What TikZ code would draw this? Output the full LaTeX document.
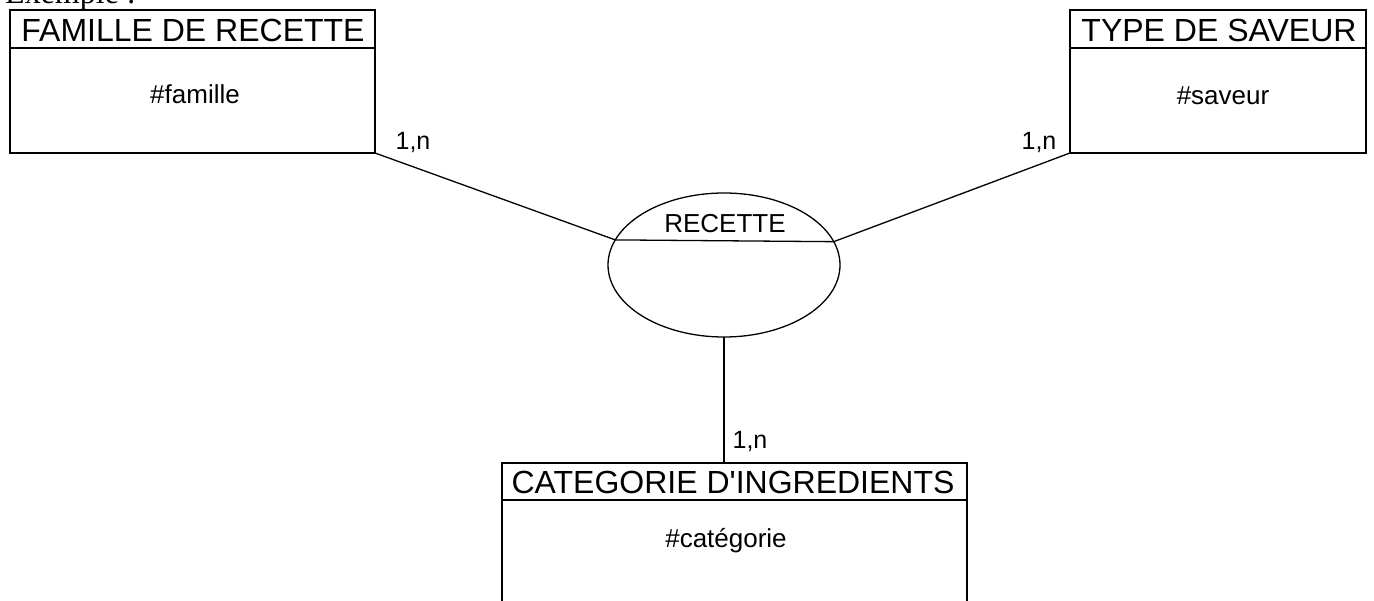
\documentclass[tikz,border=0pt]{standalone}
\usepackage{fontspec}
\setmainfont{Liberation Sans}
\newfontfamily\timesfont{Liberation Serif}
\usetikzlibrary{shapes.geometric}
\tikzset{
  ln/.style={line width=1.3pt, black},
  entbox/.style={draw, ln, anchor=north west, inner sep=0pt, outer sep=0pt},
  head/.style={font=\fontsize{32}{36}\selectfont, inner sep=0pt},
  attr/.style={font=\fontsize{26}{30}\selectfont, inner sep=0pt},
  card/.style={font=\fontsize{25}{30}\selectfont, inner sep=0pt},
}
\begin{document}
\begin{tikzpicture}[x=1pt,y=-1pt]
\useasboundingbox (0,0) rectangle (1374,601);
% partial title
\node[font=\timesfont\fontsize{32}{36}\selectfont, anchor=base west, inner sep=0pt] (ex) at (5,4) {Exemple :};
% FAMILLE DE RECETTE
\node[entbox, minimum width=365pt, minimum height=143pt] (fam) at (10,10) {};
\draw[ln] (10,48) -- (375,48);
\node[head] (famh) at (193,30) {FAMILLE DE RECETTE};
\node[attr] (fama) at (195,94) {\#famille};
% TYPE DE SAVEUR
\node[entbox, minimum width=296pt, minimum height=143pt] (typ) at (1070,10) {};
\draw[ln] (1070,48) -- (1366,48);
\node[head] (typh) at (1219,30) {TYPE DE SAVEUR};
\node[attr] (typa) at (1223,96) {\#saveur};
% CATEGORIE
\node[entbox, minimum width=465pt, minimum height=200pt] (cat) at (502,463) {};
\draw[ln] (502,500) -- (967,500);
\node[head] (cath) at (733,482) {CATEGORIE D\textquotesingle INGREDIENTS};
\node[attr] (cata) at (726,541) {\#catégorie};
% RECETTE association
\node[ellipse, draw, ln, minimum width=232pt, minimum height=144pt, inner sep=0pt, outer sep=0pt] (rec) at (724,265) {};
\draw[ln] (rec.167.1) -- (rec.12.9);
\node[attr] (rect) at (725,224) {RECETTE};
% connectors
\draw[ln] (fam.south east) -- (rec.167.1);
\draw[ln] (typ.south west) -- (rec.12.9);
\draw[ln] (rec.south) -- (rec.south |- cat.north);
% cardinalities
\node[card] (c1) at (413,143) {1,n};
\node[card] (c2) at (1039,143) {1,n};
\node[card] (c3) at (750,441) {1,n};
\end{tikzpicture}
\end{document}
